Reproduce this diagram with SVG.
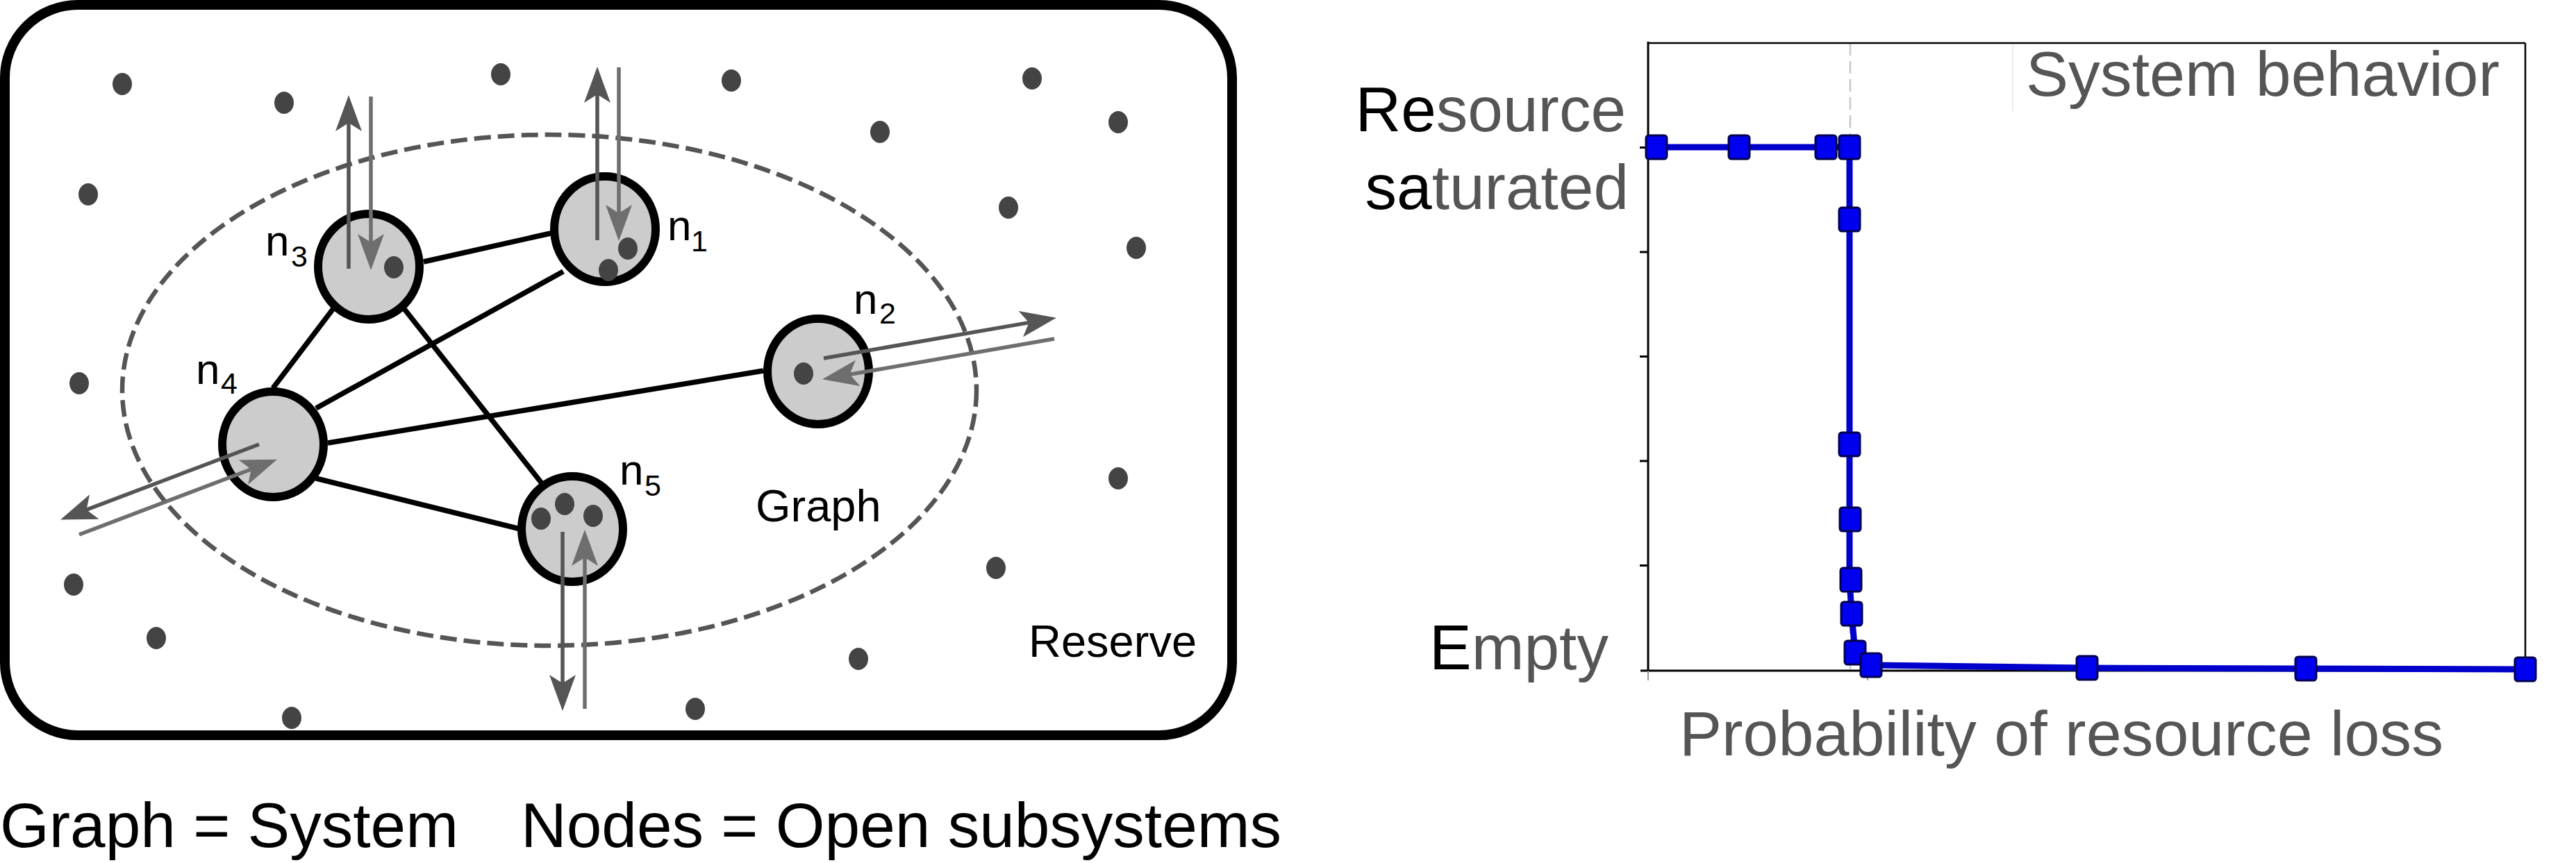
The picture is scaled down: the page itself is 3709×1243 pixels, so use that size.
<svg xmlns="http://www.w3.org/2000/svg" width="3709" height="1243" viewBox="0 0 3709 1243">
<style>
text{font-family:"Liberation Sans",Arial,sans-serif}
.node{fill:#cccccc;stroke:#000;stroke-width:12}
.dot{fill:#444}
.edge{stroke:#000;stroke-width:7.5;fill:none}
.out{stroke:#555;stroke-width:5.5;fill:none;marker-end:url(#hOut)}
.in{stroke:#6e6e6e;stroke-width:5.5;fill:none;marker-end:url(#hIn)}
.lbl{font-size:62px;fill:#000}
.sub{font-size:43px;fill:#000}
.big{font-size:65px;fill:#000}
.cap{font-size:91px;fill:#000}
.ch{font-size:91px;fill:#555}
.blk{fill:#000}
.mk{fill:#0000f0;stroke:#000050;stroke-width:3}
.tick{stroke:#000;stroke-width:3}
</style>
<defs>
<marker id="hOut" markerUnits="userSpaceOnUse" markerWidth="52" markerHeight="38" viewBox="0 0 52 38" refX="21" refY="19" orient="auto">
<path d="M0,0 L52,19 L0,38 L12,19 Z" fill="#555"/>
</marker>
<marker id="hIn" markerUnits="userSpaceOnUse" markerWidth="52" markerHeight="38" viewBox="0 0 52 38" refX="21" refY="19" orient="auto">
<path d="M0,0 L52,19 L0,38 L12,19 Z" fill="#6e6e6e"/>
</marker>
</defs>
<rect width="3709" height="1243" fill="#fff"/>

<g id="reserve">
<rect x="7" y="7" width="1767" height="1052" rx="105" ry="105" fill="none" stroke="#000" stroke-width="14"/>
<g class="dot">
<ellipse cx="176" cy="121" rx="14" ry="16"/>
<ellipse cx="409" cy="148" rx="14" ry="16"/>
<ellipse cx="721" cy="107" rx="14" ry="16"/>
<ellipse cx="1053" cy="116" rx="14" ry="16"/>
<ellipse cx="1267" cy="190" rx="14" ry="16"/>
<ellipse cx="1486" cy="113" rx="14" ry="16"/>
<ellipse cx="1610" cy="176" rx="14" ry="16"/>
<ellipse cx="127" cy="280" rx="14" ry="16"/>
<ellipse cx="1452" cy="299" rx="14" ry="16"/>
<ellipse cx="1636" cy="357" rx="14" ry="16"/>
<ellipse cx="114" cy="552" rx="14" ry="16"/>
<ellipse cx="1610" cy="689" rx="14" ry="16"/>
<ellipse cx="106" cy="842" rx="14" ry="16"/>
<ellipse cx="1434" cy="818" rx="14" ry="16"/>
<ellipse cx="225" cy="919" rx="14" ry="16"/>
<ellipse cx="1236" cy="949" rx="14" ry="16"/>
<ellipse cx="420" cy="1034" rx="14" ry="16"/>
<ellipse cx="1001" cy="1021" rx="14" ry="16"/>
</g>
<text class="big" x="1481" y="946">Reserve</text>
</g>

<g id="graph">
<ellipse cx="791" cy="562" rx="615" ry="368" fill="none" stroke="#555" stroke-width="6.5" stroke-dasharray="24 10"/>
<text class="big" x="1088" y="751">Graph</text>
</g>

<g id="connectors">
<line class="edge" x1="610" y1="377" x2="793" y2="336"/>
<line class="edge" x1="811" y1="391" x2="455" y2="588"/>
<line class="edge" x1="481" y1="443" x2="393" y2="559"/>
<line class="edge" x1="579" y1="441" x2="780" y2="696"/>
<line class="edge" x1="472" y1="638" x2="1099" y2="534"/>
<line class="edge" x1="455" y1="689" x2="753" y2="763"/>
</g>

<g id="n1">
<ellipse class="node" cx="871" cy="330" rx="73" ry="76"/>
<ellipse class="dot" cx="904" cy="358" rx="14" ry="16"/>
<ellipse class="dot" cx="876" cy="389" rx="14" ry="16"/>
<text class="lbl" x="961" y="346">n</text><text class="sub" x="995" y="362">1</text>
</g>
<g id="n2">
<ellipse class="node" cx="1178" cy="535" rx="73" ry="76"/>
<ellipse class="dot" cx="1157" cy="538" rx="14" ry="16"/>
<text class="lbl" x="1229" y="452">n</text><text class="sub" x="1266" y="466">2</text>
</g>
<g id="n3">
<ellipse class="node" cx="531" cy="384" rx="73" ry="76"/>
<ellipse class="dot" cx="567" cy="385" rx="14" ry="16"/>
<text class="lbl" x="382" y="368">n</text><text class="sub" x="419" y="384">3</text>
</g>
<g id="n4">
<ellipse class="node" cx="393" cy="640" rx="73" ry="76"/>
<text class="lbl" x="282" y="553">n</text><text class="sub" x="318" y="567">4</text>
</g>
<g id="n5">
<ellipse class="node" cx="824" cy="762" rx="73" ry="76"/>
<ellipse class="dot" cx="779" cy="747" rx="14" ry="16"/>
<ellipse class="dot" cx="813" cy="726" rx="14" ry="16"/>
<ellipse class="dot" cx="854" cy="743" rx="14" ry="16"/>
<text class="lbl" x="892" y="698">n</text><text class="sub" x="928" y="714">5</text>
</g>

<g id="flows">
<line class="out" x1="502" y1="387" x2="502" y2="168"/>
<line class="in" x1="534" y1="139" x2="534" y2="358"/>
<line class="out" x1="860" y1="346" x2="860" y2="127"/>
<line class="in" x1="891" y1="97" x2="891" y2="316"/>
<line class="out" x1="1186" y1="516" x2="1490.4" y2="463.1"/>
<line class="in" x1="1518" y1="488" x2="1214.6" y2="540.9"/>
<line class="out" x1="373" y1="640" x2="116.1" y2="737.4"/>
<line class="in" x1="114" y1="770" x2="370" y2="672.7"/>
<line class="out" x1="810" y1="766" x2="810" y2="993"/>
<line class="in" x1="842" y1="1021" x2="842" y2="794"/>
</g>

<g id="caption">
<text class="cap" x="0" y="1220">Graph = System</text>
<text class="cap" x="750" y="1220">Nodes = Open subsystems</text>
</g>

<g id="chart">
<line x1="2664" y1="62" x2="2664" y2="966" stroke="#c8c8c8" stroke-width="2.5" stroke-dasharray="18 8"/>
<line x1="2898" y1="64" x2="2898" y2="160" stroke="#ececec" stroke-width="2"/>
<line x1="2373" y1="62" x2="3636" y2="62" stroke="#000" stroke-width="2.5"/>
<line x1="3636" y1="62" x2="3636" y2="966" stroke="#000" stroke-width="2.5"/>
<line x1="2373" y1="60" x2="2373" y2="968" stroke="#000" stroke-width="3"/>
<line x1="2362" y1="966" x2="3638" y2="966" stroke="#000" stroke-width="3"/>
<g class="tick">
<line x1="2361" y1="212.5" x2="2373" y2="212.5"/>
<line x1="2361" y1="363" x2="2373" y2="363"/>
<line x1="2361" y1="513.5" x2="2373" y2="513.5"/>
<line x1="2361" y1="664" x2="2373" y2="664"/>
<line x1="2361" y1="814.5" x2="2373" y2="814.5"/>
</g>
<g stroke="#999" stroke-width="2">
<line x1="2373" y1="966" x2="2373" y2="980"/>
<line x1="2689" y1="966" x2="2689" y2="980"/>
<line x1="3005" y1="966" x2="3005" y2="980"/>
<line x1="3320" y1="966" x2="3320" y2="980"/>
<line x1="3636" y1="966" x2="3636" y2="980"/>
</g>
<path d="M2385,212 L2663,212 L2663,835 L2666,884 L2671,940 L2694,958 L3005,962 L3320,963 L3636,964" fill="none" stroke="#0000cc" stroke-width="9" stroke-linejoin="round"/>
<g class="mk">
<rect x="2370" y="195" width="30" height="34" rx="4"/>
<rect x="2489" y="195" width="30" height="34" rx="4"/>
<rect x="2614" y="195" width="30" height="34" rx="4"/>
<rect x="2648" y="195" width="30" height="34" rx="4"/>
<rect x="2648" y="299" width="30" height="34" rx="4"/>
<rect x="2648" y="623" width="30" height="34" rx="4"/>
<rect x="2649" y="731" width="30" height="34" rx="4"/>
<rect x="2650" y="818" width="30" height="34" rx="4"/>
<rect x="2651" y="867" width="30" height="34" rx="4"/>
<rect x="2656" y="923" width="30" height="34" rx="4"/>
<rect x="2679" y="941" width="30" height="34" rx="4"/>
<rect x="2990" y="945" width="30" height="34" rx="4"/>
<rect x="3305" y="946" width="30" height="34" rx="4"/>
<rect x="3621" y="947" width="30" height="34" rx="4"/>
</g>
<text class="ch" x="2341" y="189" text-anchor="end"><tspan class="blk">Re</tspan>source</text>
<text class="ch" x="2345" y="301" text-anchor="end"><tspan class="blk">sa</tspan>turated</text>
<text class="ch" x="2058" y="964"><tspan class="blk">E</tspan>mpty</text>
<text class="ch" x="2917" y="138" textLength="682" lengthAdjust="spacingAndGlyphs">System behavior</text>
<text class="ch" x="2418" y="1088" textLength="1100" lengthAdjust="spacingAndGlyphs">Probability of resource loss</text>
</g>
</svg>
